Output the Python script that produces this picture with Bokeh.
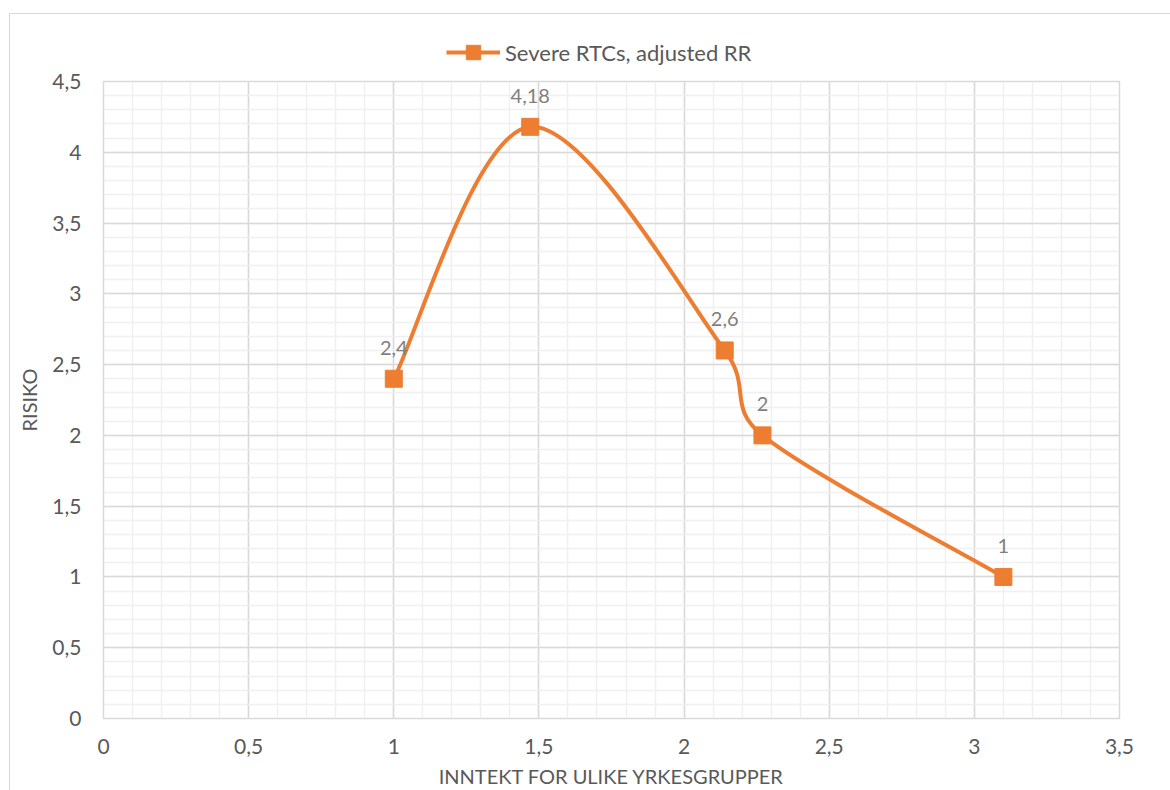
import math
from bokeh.plotting import figure
from bokeh.layouts import column
from bokeh.models import (SingleIntervalTicker, CustomJSTickFormatter, Legend, LegendItem,
                          Range1d, ColumnDataSource)
from bokeh.core.properties import value
from bokeh.embed import file_html
from bokeh.resources import INLINE

# ---- data ----
income = [1.0, 1.47, 2.14, 2.27, 3.1]
risk = [2.4, 4.18, 2.6, 2.0, 1.0]
series_name = "Severe RTCs, adjusted RR"
x_title = "INNTEKT FOR ULIKE YRKESGRUPPER"
y_title = "RISIKO"
point_labels = [("%g" % v).replace(".", ",") for v in risk]

ORANGE = "#ED7D31"
TEXT = "#595959"
FONT = "Lato"

# layout (window offsets of canvas: 10, 14)
W = 1160
LEG_H = 54
H = 776 - LEG_H
FRAME_W, FRAME_H = 1016, 639

p = figure(width=W, height=H, output_backend="svg", toolbar_location=None, title=None,
           x_range=Range1d(0, 3.5), y_range=Range1d(0, 4.5),
           min_border_left=93, min_border_right=51, min_border_top=13, min_border_bottom=70,
           background_fill_color="white", border_fill_color="white",
           outline_line_color="#d9d9d9", outline_line_width=1.5)

fmt = CustomJSTickFormatter(code="return tick.toString().replace('.', ',');")
for ax, tk in ((p.xaxis[0], SingleIntervalTicker(interval=0.5, num_minor_ticks=5)),
               (p.yaxis[0], SingleIntervalTicker(interval=0.5, num_minor_ticks=5))):
    ax.ticker = tk
    ax.formatter = fmt
    ax.axis_line_color = None
    ax.major_tick_line_color = None
    ax.minor_tick_line_color = None
    ax.major_tick_out = 0
    ax.minor_tick_out = 0
    ax.major_label_text_font = FONT
    ax.major_label_text_font_size = "21px"
    ax.major_label_text_color = TEXT
    ax.axis_label_text_font = FONT
    ax.axis_label_text_font_size = "20px"
    ax.axis_label_text_font_style = "normal"
    ax.axis_label_text_color = TEXT

p.xaxis.axis_label = x_title
p.yaxis.axis_label = y_title
p.xaxis.major_label_standoff = 20
p.xaxis.axis_label_standoff = 7
p.yaxis.major_label_standoff = 22
p.yaxis.axis_label_standoff = 8

for g in (p.xgrid[0], p.ygrid[0]):
    g.grid_line_color = "#d9d9d9"
    g.grid_line_width = 1.5
    g.minor_grid_line_color = "#f0f0f0"
    g.minor_grid_line_width = 1.5

# ---- smoothed line (Excel-style bezier, control points from data in screen-proportional space) ----
sx, sy = FRAME_W / 3.5, FRAME_H / 4.5
pts = [(x * sx, y * sy) for x, y in zip(income, risk)]
n = len(pts)
x0s, y0s, x1s, y1s, cx0, cy0, cx1, cy1 = ([] for _ in range(8))
def dist(a, b):
    return math.hypot(a[0] - b[0], a[1] - b[1])
for i in range(n - 1):
    P0 = pts[i - 1] if i > 0 else pts[i]
    P1, P2 = pts[i], pts[i + 1]
    P3 = pts[i + 2] if i + 2 < n else pts[i + 1]
    d12, d02, d13 = dist(P1, P2), dist(P0, P2), dist(P1, P3)
    f1 = min(1 / 6, 0.5 * d12 / d02) if d02 > 0 else 0
    f2 = min(1 / 6, 0.5 * d12 / d13) if d13 > 0 else 0
    c1 = (P1[0] + f1 * (P2[0] - P0[0]), P1[1] + f1 * (P2[1] - P0[1]))
    c2 = (P2[0] - f2 * (P3[0] - P1[0]), P2[1] - f2 * (P3[1] - P1[1]))
    x0s.append(income[i]); y0s.append(risk[i])
    x1s.append(income[i + 1]); y1s.append(risk[i + 1])
    cx0.append(c1[0] / sx); cy0.append(c1[1] / sy)
    cx1.append(c2[0] / sx); cy1.append(c2[1] / sy)

p.bezier(x0=x0s, y0=y0s, x1=x1s, y1=y1s, cx0=cx0, cy0=cy0, cx1=cx1, cy1=cy1,
         line_color=ORANGE, line_width=4)

src = ColumnDataSource(dict(x=income, y=risk, lab=point_labels))
p.scatter("x", "y", source=src, marker="square", size=17,
          fill_color=ORANGE, line_color=ORANGE)
p.text("x", "y", text="lab", source=src, text_font=value(FONT), text_font_size="20px",
       text_color="#7f7f7f", text_align="center", text_baseline="middle", y_offset=-31)

# ---- legend strip (separate figure above the plot; series drawn off-range so only the legend shows) ----
lf = figure(width=W, height=LEG_H, output_backend="svg", toolbar_location=None, title=None,
            x_axis_type=None, y_axis_type=None, x_range=Range1d(-2, -1), y_range=Range1d(-2, -1),
            min_border=0, outline_line_color=None, background_fill_color="white",
            border_fill_color="white")
lf.xgrid.visible = False
lf.ygrid.visible = False
lsrc = ColumnDataSource(dict(x=income, y=risk))
l_line = lf.line("x", "y", source=lsrc, line_color=ORANGE, line_width=4)
l_pts = lf.scatter("x", "y", source=lsrc, marker="square", size=17,
                   fill_color=ORANGE, line_color=ORANGE)
legend = Legend(items=[LegendItem(label=series_name, renderers=[l_line, l_pts])],
                location=(343, -2), orientation="horizontal",
                glyph_width=54, glyph_height=36, label_standoff=5,
                padding=0, margin=0, spacing=0, border_line_color=None, background_fill_alpha=0,
                label_text_font=FONT, label_text_font_size="22px", label_text_color=TEXT)
lf.add_layout(legend, "center")

layout = column(lf, p, spacing=0)
layout.styles = {"margin-left": "9px", "margin-top": "13px",
                 "border-left": "1px solid #d9d9d9", "border-top": "1px solid #d9d9d9"}

open("out.html", "w").write(file_html(layout, INLINE))
